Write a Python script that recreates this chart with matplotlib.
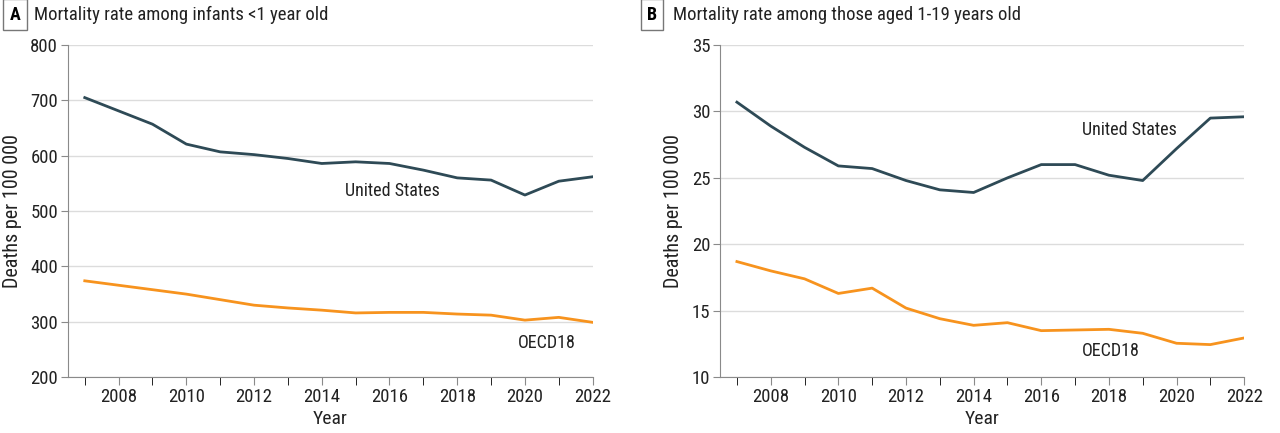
import numpy as np
import matplotlib
matplotlib.use("Agg")
import matplotlib.pyplot as plt

plt.rcParams['font.family'] = ['Roboto Condensed', 'DejaVu Sans']

years = list(range(2007, 2023))

# panel A: infants <1 year, deaths per 100 000
infant_us = [705, 681, 657, 621, 607, 602, 595, 586, 589, 586, 574, 560, 556, 529, 554, 562]
infant_oecd = [374, 366, 358, 350, 340, 330, 325, 321, 316, 317, 317, 314, 312, 303, 308, 299]

# panel B: ages 1-19
youth_us = [30.7, 28.9, 27.3, 25.9, 25.7, 24.8, 24.1, 23.9, 25.0, 26.0, 26.0, 25.2, 24.8, 27.2, 29.5, 29.6]
youth_oecd = [18.7, 18.0, 17.4, 16.3, 16.7, 15.2, 14.4, 13.9, 14.1, 13.5, 13.55, 13.6, 13.3, 12.55, 12.45, 12.95]

us_color = '#2e4a56'
oecd_color = '#f7931e'

fig = plt.figure(figsize=(12.8, 4.33), dpi=100)
axA = fig.add_axes([0.053, 0.129, 0.41, 0.767])
axB = fig.add_axes([0.5625, 0.129, 0.4095, 0.767])


def style(ax, ylim, yticks):
    ax.set_xlim(2006.5, 2022)
    ax.set_ylim(*ylim)
    ax.set_yticks(yticks)
    ax.set_xticks(range(2008, 2023, 2))
    ax.set_xticks(years, minor=True)
    ax.grid(axis='y', color='#dcdcdc', lw=1)
    ax.set_axisbelow(True)
    for s in ['top', 'right']:
        ax.spines[s].set_visible(False)
    for s in ['left', 'bottom']:
        ax.spines[s].set_color('#8a8a8a')
    ax.tick_params(axis='both', colors='#8a8a8a', labelcolor='#222222', labelsize=13.5)
    ax.tick_params(axis='x', which='both', length=6, pad=2)
    ax.tick_params(axis='y', length=5, pad=2)
    ax.set_xlabel('Year', fontsize=14, color='#222222', labelpad=3)
    ax.set_ylabel('Deaths per 100 000', fontsize=14.5, color='#222222', labelpad=6)


style(axA, (200, 800), range(200, 801, 100))
axA.plot(years, infant_us, color=us_color, lw=2)
axA.plot(years, infant_oecd, color=oecd_color, lw=2)
axA.text(2014.7, 537, 'United States', fontsize=13, va='center', color='#222222')
axA.text(2019.8, 262, 'OECD18', fontsize=13, va='center', color='#222222')

style(axB, (10, 35), range(10, 36, 5))
axB.plot(years, youth_us, color=us_color, lw=2)
axB.plot(years, youth_oecd, color=oecd_color, lw=2)
axB.text(2017.2, 28.6, 'United States', fontsize=13, va='center', color='#222222')
axB.text(2017.2, 12.0, 'OECD18', fontsize=13, va='center', color='#222222')

box = dict(boxstyle='square,pad=0.35', fc='white', ec='#777777', lw=1)
fig.text(0.0075, 0.966, 'A', fontsize=13, fontweight='bold', va='center', bbox=box)
fig.text(0.0265, 0.966, 'Mortality rate among infants <1 year old', fontsize=13.5, va='center', color='#222222')
fig.text(0.5055, 0.966, 'B', fontsize=13, fontweight='bold', va='center', bbox=box)
fig.text(0.5255, 0.966, 'Mortality rate among those aged 1-19 years old', fontsize=13.5, va='center', color='#222222')

fig.savefig('out.png', dpi=100)
